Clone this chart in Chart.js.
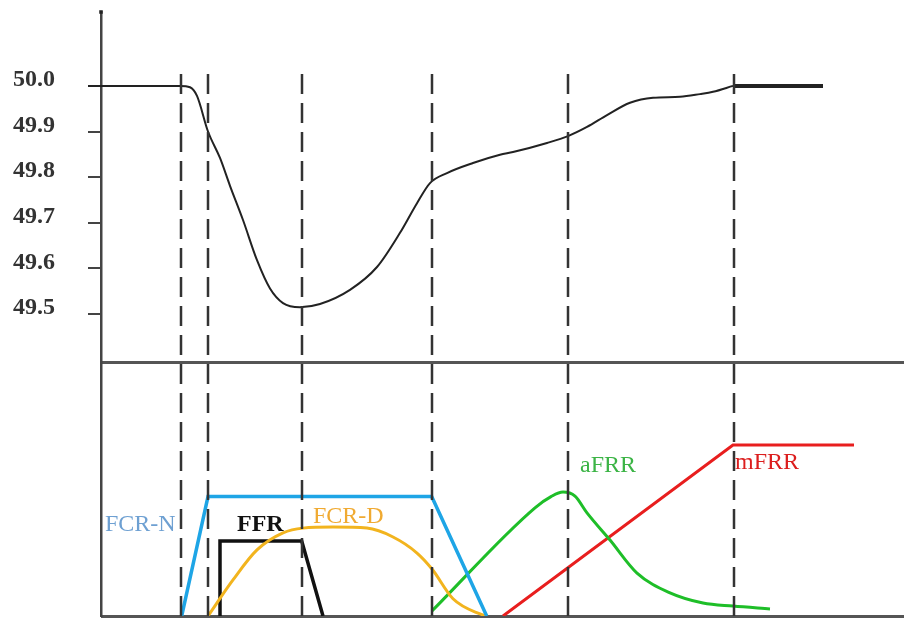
<!DOCTYPE html>
<html>
<head>
<meta charset="UTF-8">
<title>Frequency response and reserves</title>
<script src="https://cdn.jsdelivr.net/npm/chart.js"></script>
<style>
  body { margin: 0; background: #fff; }
  #wrap { width: 904px; height: 621px; }
</style>
</head>
<body>
<div id="wrap"><canvas id="chart" width="904" height="621"></canvas></div>
<script>
// Time in arbitrary units, frequency in Hz, reserve power in % of panel height
const eventTimes = [8.0, 10.7, 20.1, 33.1, 46.7, 63.3];
const freqTicks = [49.5, 49.6, 49.7, 49.8, 49.9, 50.0];

const freqTime = [-1.3, 7.9, 8.9, 9.6, 10.7, 11.9, 12.9, 14.2, 15.6, 16.9, 18.2, 19.9, 21.9, 24.9, 27.6, 29.9, 31.6, 32.9, 34.6, 37.2, 39.9, 41.2, 44.6, 46.7, 48.6, 50.6, 52.9, 55.2, 57.9, 59.9, 61.2, 63.2];
const freqValue = [50.0, 50.0, 49.997, 49.978, 49.9, 49.842, 49.781, 49.706, 49.618, 49.556, 49.524, 49.515, 49.522, 49.553, 49.603, 49.678, 49.743, 49.787, 49.809, 49.831, 49.849, 49.855, 49.875, 49.89, 49.91, 49.936, 49.963, 49.974, 49.976, 49.982, 49.987, 50.0];
const tailTime = [63.2, 72.2];
const tailValue = [50.0, 50.0];

const fcrnTime = [8.07, 10.7, 33.07, 38.57];
const fcrnPower = [0, 47, 47, 0];
const ffrTime = [11.9, 11.9, 20.07, 22.2];
const ffrPower = [0, 29.5, 29.5, 0];
const fcrdTime = [10.7, 13.2, 15.6, 18.2, 20.2, 23.2, 26.6, 29.2, 31.6, 33.1, 35.2, 37.9, 38.6];
const fcrdPower = [0, 14.2, 26, 32.7, 34.6, 35, 34.6, 31.1, 24.8, 18.5, 6.8, 0.8, 0];
const afrrTime = [33.1, 43.4, 45.0, 46.2, 47.4, 48.6, 50.9, 53.6, 56.9, 60.2, 63.2, 66.9];
const afrrPower = [2, 42.6, 47.0, 48.8, 47.2, 40.6, 29.9, 16.9, 9.1, 5.1, 3.9, 2.8];
const mfrrTime = [40.2, 63.2, 75.3];
const mfrrPower = [0, 67.3, 67.3];

const T_MAX = 80.3;
const F_MIN = 48.838, F_MAX = 50.162;
const P_MAX = 237.8, DASH_TOP = 215, PANEL_TOP = 100;

const pts = (xs, ys) => xs.map((x, i) => ({ x: x, y: ys[i] }));

const serif = 'Liberation Serif, "Times New Roman", serif';

const seriesNames = {
  id: 'seriesNames',
  afterDatasetsDraw(chart) {
    const ctx = chart.ctx;
    chart.data.datasets.forEach(ds => {
      if (!ds.nameAt) return;
      const yScale = chart.scales[ds.yAxisID];
      const px = chart.scales.x.getPixelForValue(ds.nameAt.x);
      const py = yScale.getPixelForValue(ds.nameAt.y);
      ctx.save();
      ctx.font = (ds.nameAt.bold ? 'bold ' : '') + '24px ' + serif;
      ctx.fillStyle = ds.nameAt.color;
      ctx.textAlign = 'left';
      ctx.textBaseline = 'middle';
      ctx.fillText(ds.label, px, py);
      ctx.restore();
    });
  }
};

const dashed = eventTimes.map(t => ({
  label: 'event',
  data: [{ x: t, y: 0 }, { x: t, y: DASH_TOP }],
  yAxisID: 'yP',
  borderColor: '#333',
  borderWidth: 2.5,
  borderDash: [20, 9],
  pointRadius: 0,
  tension: 0
}));

new Chart(document.getElementById('chart'), {
  type: 'line',
  data: {
    datasets: [
      ...dashed,
      {
        label: 'f',
        data: pts(freqTime, freqValue),
        yAxisID: 'yF',
        borderColor: '#222',
        borderWidth: 2,
        pointRadius: 0,
        cubicInterpolationMode: 'monotone',
        clip: false
      },
      {
        label: 'f tail',
        data: pts(tailTime, tailValue),
        yAxisID: 'yF',
        borderColor: '#222',
        borderWidth: 4,
        pointRadius: 0
      },
      {
        label: 'FCR-N',
        data: pts(fcrnTime, fcrnPower),
        yAxisID: 'yP',
        borderColor: 'rgb(30,165,230)',
        borderWidth: 3.5,
        pointRadius: 0,
        tension: 0,
        nameAt: { x: 0.4, y: 36, color: 'rgb(110,160,210)' }
      },
      {
        label: 'FCR-D',
        data: pts(fcrdTime, fcrdPower),
        yAxisID: 'yP',
        borderColor: 'rgb(242,180,30)',
        borderWidth: 3,
        pointRadius: 0,
        cubicInterpolationMode: 'monotone',
        nameAt: { x: 21.2, y: 39, color: 'rgb(240,170,50)' }
      },
      {
        label: 'FFR',
        data: pts(ffrTime, ffrPower),
        yAxisID: 'yP',
        borderColor: '#111',
        borderWidth: 3.5,
        pointRadius: 0,
        tension: 0,
        nameAt: { x: 13.6, y: 36, color: '#111', bold: true }
      },
      {
        label: 'aFRR',
        data: pts(afrrTime, afrrPower),
        yAxisID: 'yP',
        borderColor: 'rgb(30,190,40)',
        borderWidth: 3,
        pointRadius: 0,
        cubicInterpolationMode: 'monotone',
        nameAt: { x: 47.9, y: 59, color: 'rgb(60,180,70)' }
      },
      {
        label: 'mFRR',
        data: pts(mfrrTime, mfrrPower),
        yAxisID: 'yP',
        borderColor: 'rgb(232,30,30)',
        borderWidth: 3,
        pointRadius: 0,
        tension: 0,
        nameAt: { x: 63.4, y: 60.5, color: 'rgb(220,30,30)' }
      },
      {
        label: 'axis tip',
        data: [{ x: 0, y: F_MAX }],
        yAxisID: 'yF',
        showLine: false,
        pointRadius: 2.5,
        pointStyle: 'rect',
        pointBackgroundColor: '#222',
        pointBorderWidth: 0,
        clip: false
      }
    ]
  },
  options: {
    responsive: false,
    animation: false,
    devicePixelRatio: 1,
    layout: { autoPadding: false, padding: { left: 0, right: 0, top: 12, bottom: 5 } },
    plugins: {
      legend: { display: false },
      tooltip: { enabled: false }
    },
    scales: {
      x: {
        type: 'linear',
        min: 0,
        max: T_MAX,
        display: false
      },
      yF: {
        type: 'linear',
        position: 'left',
        min: F_MIN,
        max: F_MAX,
        afterBuildTicks: s => { s.ticks = freqTicks.map(v => ({ value: v })); },
        afterFit: s => { s.width = 101; s.paddingTop = 0; s.paddingBottom = 0; },
        grid: { drawOnChartArea: false, drawTicks: true, tickLength: 13, color: '#444', lineWidth: 2 },
        border: { display: true, color: '#444', width: 2.5 },
        ticks: {
          font: { family: serif, size: 24, weight: 'bold' },
          color: '#333',
          padding: 33,
          labelOffset: -6,
          callback: v => v.toFixed(1)
        }
      },
      yP: {
        type: 'linear',
        position: 'right',
        min: 0,
        max: P_MAX,
        afterBuildTicks: s => { s.ticks = [{ value: 0 }, { value: PANEL_TOP }]; },
        afterFit: s => { s.width = 0; s.paddingTop = 0; s.paddingBottom = 0; },
        grid: { drawOnChartArea: true, drawTicks: false, color: '#555', lineWidth: 3 },
        border: { display: false },
        ticks: { display: false }
      }
    }
  },
  plugins: [seriesNames]
});
</script>
</body>
</html>
